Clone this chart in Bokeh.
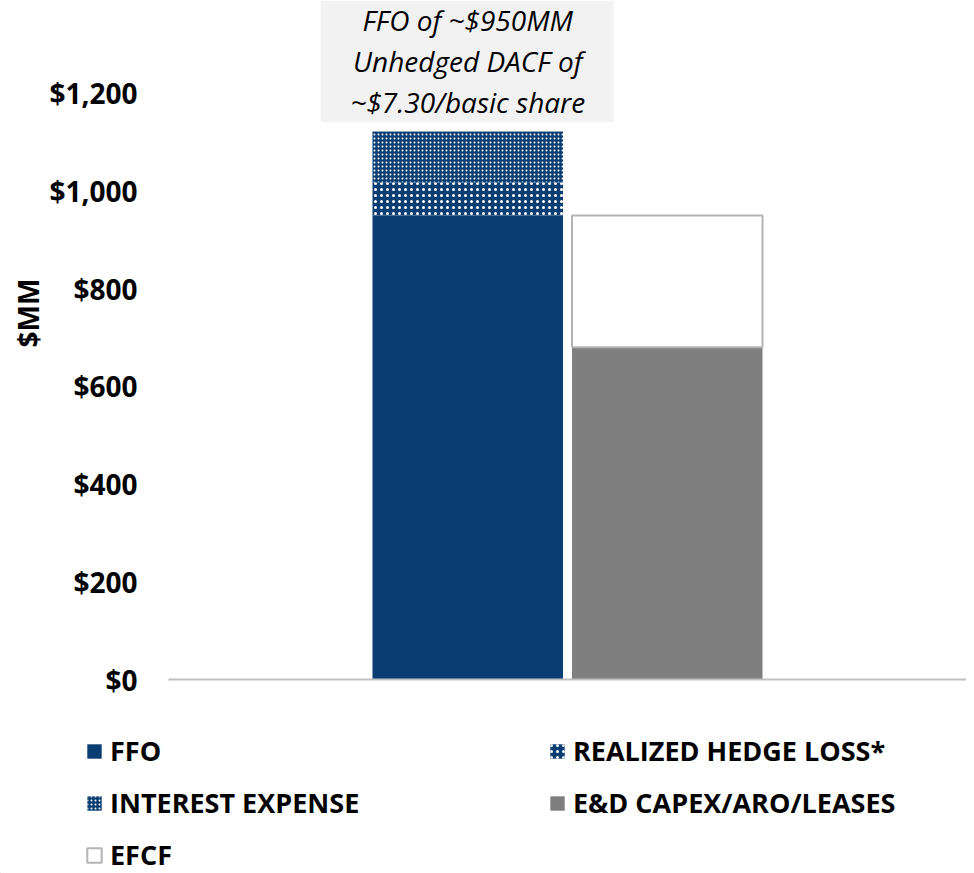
from bokeh.plotting import figure
from bokeh.models import (ColumnDataSource, FactorRange, Range1d, FixedTicker,
                          NumeralTickFormatter, Legend, LegendItem, Label, BoxAnnotation, Title)
from bokeh.embed import file_html
from bokeh.resources import INLINE

# ---- data ----
bars = ["Sources", "Uses"]
ffo = [950]
hedge_loss = [68]
interest_expense = [104]
capex = [680]
efcf = [270]
y_ticks = [0, 200, 400, 600, 800, 1000, 1200]
series_labels = ["FFO", "REALIZED HEDGE LOSS*", "INTEREST EXPENSE",
                 "E&D CAPEX/ARO/LEASES", "EFCF"]
note_lines = ["FFO of ~$950MM", "Unhedged DACF of", "~$7.30/basic share"]
y_title = "$MM"

NAVY = "#0a3d72"
GRAY = "#7f7f7f"
FONT = "Open Sans"

# per-series styles (FFO, hedge loss, interest, capex, EFCF)
fills = [NAVY, NAVY, NAVY, GRAY, "white"]
hatches = [" ", "dot", "dot", " ", " "]
hatch_scales = [12, 6, 4, 12, 12]
hatch_weights = [1, 2.4, 3.5, 1, 1]
lines = [None, None, None, None, "#b4b4b4"]
line_widths = [1, 1, 1, 1, 2]

p = figure(x_range=FactorRange(factors=bars, range_padding=1.0, range_padding_units="absolute"),
           y_range=Range1d(0, 1390),
           width=966, height=699, output_backend="svg", toolbar_location=None,
           min_border_left=168, min_border_right=0, min_border_top=0, min_border_bottom=20)

src1 = ColumnDataSource(dict(x=[bars[0]], ffo=ffo, hedge=hedge_loss, interest=interest_expense))
src2 = ColumnDataSource(dict(x=[bars[1]], capex=capex, efcf=efcf))

p.vbar_stack(["ffo", "hedge", "interest"], x="x", width=0.955, source=src1,
             fill_color=fills[:3], line_color=lines[:3], hatch_pattern=hatches[:3],
             hatch_color="white", hatch_scale=hatch_scales[:3], hatch_weight=hatch_weights[:3])
p.vbar_stack(["capex", "efcf"], x="x", width=0.955, source=src2,
             fill_color=fills[3:], line_color=lines[3:], line_width=line_widths[3:])

# note box
p.add_layout(BoxAnnotation(left=-0.238, right=1.231, bottom=1141,
                           fill_color="#f2f2f2", fill_alpha=1, line_color=None, level="underlay"))
p.add_layout(Label(x=0.5, y=1390, text="\n".join(note_lines), text_align="center",
                   text_baseline="top", text_font=FONT, text_font_style="italic",
                   text_font_size="28px", text_line_height=1.09, text_color="black"))

# y title
p.add_layout(Title(text=y_title, align="left", offset=332, standoff=0,
                   text_font=FONT, text_font_style="bold", text_font_size="28px",
                   text_color="black"), "left")

# axes
p.yaxis.ticker = FixedTicker(ticks=y_ticks)
p.yaxis.formatter = NumeralTickFormatter(format="$0,0")
p.yaxis.axis_line_color = None
p.yaxis.major_tick_line_color = None
p.yaxis.minor_tick_line_color = None
p.yaxis.major_label_standoff = 25
p.yaxis.major_label_text_font = FONT
p.yaxis.major_label_text_font_style = "bold"
p.yaxis.major_label_text_font_size = "28px"
p.yaxis.major_label_text_color = "black"

p.xaxis.axis_line_color = "#bfbfbf"
p.xaxis.axis_line_width = 2
p.xaxis.major_tick_line_color = None
p.xaxis.minor_tick_line_color = None
p.xaxis.major_label_text_color = None
p.xaxis.major_label_text_font_size = "1px"

p.xgrid.visible = False
p.ygrid.visible = False
p.outline_line_color = None

# ---- legend strip: swatch renderers carry the series styles, placed outside the view ----
q = figure(width=966, height=174, output_backend="svg", toolbar_location=None,
           x_axis_type=None, y_axis_type=None, x_range=Range1d(0, 1), y_range=Range1d(0, 1),
           min_border_left=0, min_border_right=0, min_border_top=0, min_border_bottom=0)
q.outline_line_color = None
q.xgrid.visible = False
q.ygrid.visible = False
swatches = []
for i in range(5):
    swatches.append(q.vbar(x=[-5], top=[-4], bottom=[-5], width=0.1, fill_color=fills[i],
                           line_color=lines[i], line_width=line_widths[i],
                           hatch_pattern=hatches[i], hatch_color="white",
                           hatch_scale=hatch_scales[i], hatch_weight=hatch_weights[i]))
items = [LegendItem(label=lab, renderers=[r]) for lab, r in zip(series_labels, swatches)]
legend = Legend(items=items, location=(85, 0), orientation="horizontal", ncols=2,
                padding=0, margin=0, spacing=15, glyph_width=18, glyph_height=18,
                label_standoff=7, label_width=423, label_text_font=FONT,
                label_text_font_style="bold", label_text_font_size="27px",
                label_text_color="black", border_line_color=None, background_fill_alpha=0)
q.add_layout(legend, "center")

open("out.html", "w").write(file_html([p, q], INLINE))
